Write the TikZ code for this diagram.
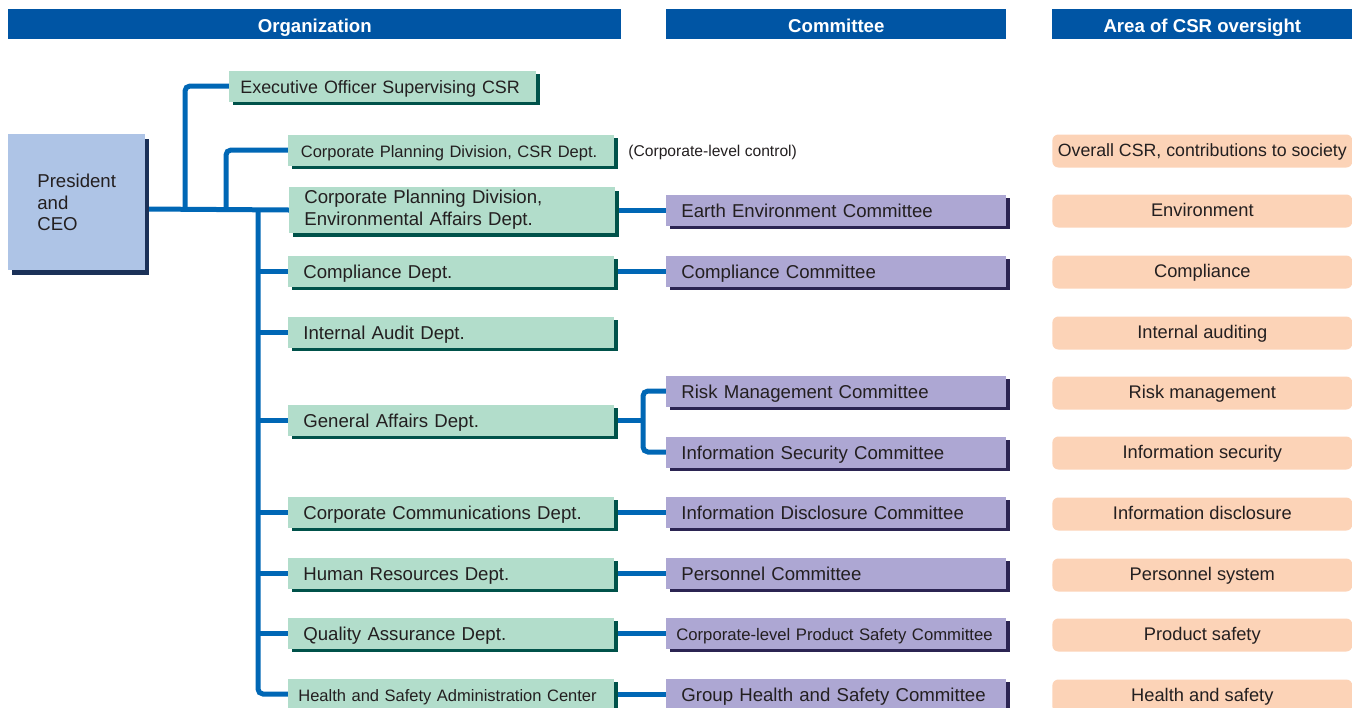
\documentclass[tikz,border=0pt]{standalone}
\usepackage{fontspec}
\setmainfont{Liberation Sans}
\usetikzlibrary{shadows,backgrounds}

\definecolor{headblue}{HTML}{0055A4}
\definecolor{linkblue}{HTML}{0067B5}
\definecolor{presfill}{HTML}{AEC4E6}
\definecolor{presshade}{HTML}{1B3158}
\definecolor{deptfill}{HTML}{B2DDCB}
\definecolor{deptshade}{HTML}{00524A}
\definecolor{commfill}{HTML}{ADA7D3}
\definecolor{commshade}{HTML}{2B2452}
\definecolor{areafill}{HTML}{FCD3B7}
\definecolor{ink}{HTML}{231F20}

\tikzset{
  header/.style={fill=headblue, text=white, font=\bfseries\fontsize{10.6}{12}\selectfont,
    minimum height=0.6cm, inner sep=0pt, text height=9.1pt, text depth=0pt, anchor=north west},
  boxfont/.style={font=\fontsize{10.6}{12.5}\selectfont},
  smallfont/.style={font=\fontsize{9.4}{11}\selectfont},
  oneline/.style={text height=8.5pt, text depth=0pt},
  pres/.style={boxfont, fill=presfill, text=ink, anchor=north west,
    general shadow={fill=presshade, shadow xshift=0.08cm, shadow yshift=-0.09cm},
    minimum height=2.72cm, inner xsep=0.58cm, inner ysep=0pt, text width=1.58cm, align=left},
  deptbox/.style={boxfont, fill=deptfill, text=ink, anchor=west,
    general shadow={fill=deptshade, shadow xshift=0.07cm, shadow yshift=-0.07cm},
    minimum height=0.62cm, inner xsep=0.3cm, inner ysep=0pt, text width=5.92cm, align=left},
  dept/.style={deptbox, oneline},
  comm/.style={boxfont, oneline, fill=commfill, text=ink, anchor=west,
    general shadow={fill=commshade, shadow xshift=0.07cm, shadow yshift=-0.07cm},
    minimum height=0.62cm, inner xsep=0.3cm, inner ysep=0pt, text width=6.2cm, align=left},
  area/.style={font=\fontsize{10.4}{12}\selectfont, fill=areafill, text=ink, anchor=west,
    rounded corners=0.12cm, minimum width=6cm, minimum height=0.66cm, inner sep=0pt,
    text height=6.8pt, text depth=0pt},
  link/.style={draw=linkblue, line width=0.1cm, rounded corners=0.1cm},
}

\begin{document}
\begin{tikzpicture}[x=0.02cm, y=-0.02cm]
	\useasboundingbox (0,0) rectangle (1352,707);

	% column headings
	\node[header, minimum width=12.26cm] (hOrg) at (8,9) {Organization};
	\node[header, minimum width=6.8cm] (hComm) at (666,9) {Committee};
	\node[header, minimum width=6cm] (hArea) at (1052,9) {Area of CSR oversight};

	% organization
	\node[pres] (pres) at (8,134) {President\\and\\CEO};

	\node[dept, font=\fontsize{10.2}{12}\selectfont, inner xsep=0.22cm, text width=5.7cm] (exec) at (229,86) {Executive Officer Supervising CSR};
	\node[dept, smallfont, inner xsep=0.25cm, text width=6.02cm] (csr) at (288,150) {Corporate Planning Division, CSR Dept.};
	\node[deptbox, minimum height=0.92cm] (env) at (289,210) {Corporate Planning Division,\\Environmental Affairs Dept.};
	\node[dept] (compl) at (288,271) {Compliance Dept.};
	\node[dept] (audit) at (288,332) {Internal Audit Dept.};
	\node[dept] (genaff) at (288,420) {General Affairs Dept.};
	\node[dept] (comm) at (288,512) {Corporate Communications Dept.};
	\node[dept] (hr) at (288,573) {Human Resources Dept.};
	\node[dept] (qa) at (288,633) {Quality Assurance Dept.};
	\node[dept, smallfont, inner xsep=0.2cm, text width=6.12cm] (hsac) at (288,694) {Health and Safety Administration Center};

	\node[anchor=west, text=ink, font=\fontsize{8.9}{10}\selectfont, inner sep=0pt] (note) at (628,152) {(Corporate-level control)};

	% committees
	\node[comm] (cEarth) at (666,210) {Earth Environment Committee};
	\node[comm] (cCompl) at (666,271) {Compliance Committee};
	\node[comm] (cRisk) at (666,391) {Risk Management Committee};
	\node[comm] (cInfosec) at (666,452) {Information Security Committee};
	\node[comm] (cDiscl) at (666,512) {Information Disclosure Committee};
	\node[comm] (cPers) at (666,573) {Personnel Committee};
	\node[comm, font=\fontsize{9.5}{11}\selectfont, inner xsep=0.2cm, text width=6.4cm] (cProd) at (666,633) {Corporate-level Product Safety Committee};
	\node[comm] (cHealth) at (666,694) {Group Health and Safety Committee};

	% areas of oversight
	\node[area, font=\fontsize{10.1}{12}\selectfont] (aCSR) at (1052,151) {Overall CSR, contributions to society};
	\node[area] (aEnv) at (1052,211) {Environment};
	\node[area] (aCompl) at (1052,272) {Compliance};
	\node[area] (aAudit) at (1052,333) {Internal auditing};
	\node[area] (aRisk) at (1052,393) {Risk management};
	\node[area] (aInfosec) at (1052,453) {Information security};
	\node[area] (aDiscl) at (1052,514) {Information disclosure};
	\node[area] (aPers) at (1052,575) {Personnel system};
	\node[area] (aProd) at (1052,635) {Product safety};
	\node[area] (aHealth) at (1052,696) {Health and safety};

	% reporting lines
	\coordinate (j1) at (185,209);
	\coordinate (j2) at (226,209);
	\coordinate (spine) at (258,209);
	\coordinate (ga) at (643,420);
	\begin{scope}[on background layer]
		\draw[link] (pres.east |- j1) -- (env.west);
		\draw[link] (j1) |- (exec.west);
		\draw[link] (j2) |- (csr.west);
		\draw[link] (spine) |- (hsac.west);
		\draw[link] (spine |- compl.west) -- (compl.west);
		\draw[link] (spine |- audit.west) -- (audit.west);
		\draw[link] (spine |- genaff.west) -- (genaff.west);
		\draw[link] (spine |- comm.west) -- (comm.west);
		\draw[link] (spine |- hr.west) -- (hr.west);
		\draw[link] (spine |- qa.west) -- (qa.west);

		\draw[link] (env.east) -- (env.east -| cEarth.west);
		\draw[link] (compl.east) -- (cCompl.west);
		\draw[link] (genaff.east) -- (ga);
		\draw[link] (cRisk.west) -| (ga) |- (cInfosec.west);
		\draw[link] (comm.east) -- (cDiscl.west);
		\draw[link] (hr.east) -- (cPers.west);
		\draw[link] (qa.east) -- (cProd.west);
		\draw[link] (hsac.east) -- (cHealth.west);
	\end{scope}
\end{tikzpicture}
\end{document}
